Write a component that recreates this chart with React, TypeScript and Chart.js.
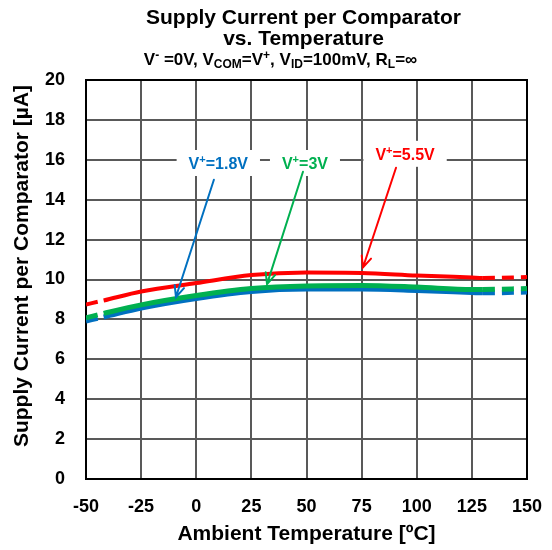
import React, { useEffect, useRef } from "react";
import { Chart, registerables } from "chart.js";

Chart.register(...registerables);

// ---- data ----
const temps = [-50, -42, -25, 0, 25, 50, 75, 100, 125, 130, 150];
const red55 = [8.75, 8.95, 9.4, 9.82, 10.22, 10.35, 10.33, 10.2, 10.1, 10.08, 10.12];
const green3 = [8.08, 8.3, 8.73, 9.2, 9.55, 9.68, 9.7, 9.62, 9.5, 9.5, 9.55];
const blue18 = [7.92, 8.12, 8.57, 9.05, 9.4, 9.52, 9.52, 9.45, 9.35, 9.33, 9.37];
const seriesNames = ["V+=1.8V", "V+=3V", "V+=5.5V"];
const labelValues = ["=1.8V", "=3V", "=5.5V"];
const xTicks = [-50, -25, 0, 25, 50, 75, 100, 125, 150];
const yTicks = [0, 2, 4, 6, 8, 10, 12, 14, 16, 18, 20];
const titleLine1 = "Supply Current per Comparator";
const titleLine2 = "vs. Temperature";
const xTitle = "Ambient Temperature [ºC]";
const yTitle = "Supply Current per Comparator [µA]";
// annotation anchors in data units: [labelX, labelY, arrowFromX, arrowFromY, arrowToX, arrowToY]
const annBlue = [10, 15.84, 8.0, 15.0, -9.2, 9.12];
const annGreen = [49.3, 15.84, 48.4, 15.4, 32.1, 9.77];
const annRed = [94.7, 16.3, 90.6, 15.6, 75.6, 10.6];

const BLUE = "#0070C0";
const GREEN = "#00B050";
const RED = "#FF0000";
const FONT = "'Liberation Sans', Arial, sans-serif";

type Seg = [string, "n" | "sup" | "sub"];

function richWidth(ctx: CanvasRenderingContext2D, segs: Seg[], size: number, ratio: number) {
  const small = Math.round(size * ratio);
  let w = 0;
  for (const [t, k] of segs) {
    ctx.font = `bold ${k === "n" ? size : small}px ${FONT}`;
    w += ctx.measureText(t).width;
  }
  return w;
}

function drawRich(ctx: CanvasRenderingContext2D, segs: Seg[], cx: number, y: number, size: number, color: string, ratio = 0.68) {
  const small = Math.round(size * ratio);
  const w = richWidth(ctx, segs, size, ratio);
  let x = cx - w / 2;
  ctx.fillStyle = color;
  ctx.textAlign = "left";
  ctx.textBaseline = "alphabetic";
  for (const [t, k] of segs) {
    ctx.font = `bold ${k === "n" ? size : small}px ${FONT}`;
    const dy = k === "sup" ? -size * 0.38 : k === "sub" ? size * 0.2 : 0;
    ctx.fillText(t, x, y + dy);
    x += ctx.measureText(t).width;
  }
  return w;
}

const overlay = {
  id: "overlay",
  beforeDatasetsDraw(chart: any) {
    const { ctx, chartArea } = chart;
    ctx.save();
    ctx.strokeStyle = "#000";
    ctx.lineWidth = 2;
    ctx.strokeRect(chartArea.left, chartArea.top, chartArea.right - chartArea.left, chartArea.bottom - chartArea.top);
    ctx.restore();
  },
  afterDatasetsDraw(chart: any) {
    const { ctx, chartArea } = chart;
    const xs = chart.scales.x;
    const ys = chart.scales.y;
    ctx.save();
    // titles
    const cx = (chartArea.left + chartArea.right) / 2;
    ctx.fillStyle = "#000";
    ctx.textAlign = "center";
    ctx.textBaseline = "alphabetic";
    ctx.font = `bold 21px ${FONT}`;
    ctx.fillText(titleLine1, cx - 3, 24);
    ctx.fillText(titleLine2, cx - 3, 45);
    drawRich(
      ctx,
      [
        ["V", "n"], ["-", "sup"], [" =0V, V", "n"], ["COM", "sub"], ["=V", "n"], ["+", "sup"],
        [", V", "n"], ["ID", "sub"], ["=100mV, R", "n"], ["L", "sub"], ["=∞", "n"],
      ],
      cx - 26, 65, 17, "#000", 0.68
    );
    // y title
    ctx.save();
    ctx.translate(22, 266);
    ctx.rotate(-Math.PI / 2);
    ctx.font = `bold 21px ${FONT}`;
    ctx.textAlign = "center";
    ctx.textBaseline = "middle";
    ctx.fillStyle = "#000";
    ctx.fillText(yTitle, 0, 0);
    ctx.restore();

    // annotations
    const anns: [number[], string, string][] = [
      [annBlue, labelValues[0], BLUE],
      [annGreen, labelValues[1], GREEN],
      [annRed, labelValues[2], RED],
    ];
    for (const [a, txt, col] of anns) {
      const lx = xs.getPixelForValue(a[0]);
      const ly = ys.getPixelForValue(a[1]);
      const segs: Seg[] = [["V", "n"], ["+", "sup"], [txt, "n"]];
      const w = richWidth(ctx, segs, 16, 0.68);
      ctx.fillStyle = "#fff";
      ctx.fillRect(lx - w / 2 - 12, ly - 13, w + 24, 26);
      drawRich(ctx, segs, lx, ly + 6, 16, col, 0.68);
      // arrow
      const x1 = xs.getPixelForValue(a[2]);
      const y1 = ys.getPixelForValue(a[3]);
      const x2 = xs.getPixelForValue(a[4]);
      const y2 = ys.getPixelForValue(a[5]);
      ctx.strokeStyle = col;
      ctx.lineWidth = 2;
      ctx.lineCap = "round";
      ctx.beginPath();
      ctx.moveTo(x1, y1);
      ctx.lineTo(x2, y2);
      const ang = Math.atan2(y2 - y1, x2 - x1);
      const hl = 12;
      const spread = 0.42;
      ctx.moveTo(x2 - hl * Math.cos(ang - spread), y2 - hl * Math.sin(ang - spread));
      ctx.lineTo(x2, y2);
      ctx.lineTo(x2 - hl * Math.cos(ang + spread), y2 - hl * Math.sin(ang + spread));
      ctx.stroke();
    }
    ctx.restore();
  },
};

function makeData(vals: number[]) {
  return temps.map((t, i) => ({ x: t, y: vals[i] }));
}

export default function App() {
  const ref = useRef<HTMLCanvasElement | null>(null);
  useEffect(() => {
    if (!ref.current) return;
    const dash = (ctx: any) =>
      ctx.p0DataIndex === 0 || ctx.p0DataIndex >= temps.length - 2 ? [12, 7] : undefined;
    const chart = new Chart(ref.current, {
      type: "line",
      data: {
        datasets: [
          { label: seriesNames[2], data: makeData(red55), borderColor: RED, borderWidth: 4, segment: { borderDash: dash } },
          { label: seriesNames[1], data: makeData(green3), borderColor: GREEN, borderWidth: 5, segment: { borderDash: dash } },
          { label: seriesNames[0], data: makeData(blue18), borderColor: BLUE, borderWidth: 5, segment: { borderDash: dash } },
        ] as any,
      },
      options: {
        animation: false,
        responsive: false,
        devicePixelRatio: 1,
        layout: { padding: { top: 80, right: 25, bottom: 0, left: 0 } },
        elements: {
          point: { radius: 0, hoverRadius: 0 },
          line: { cubicInterpolationMode: "monotone", fill: false },
        },
        plugins: { legend: { display: false }, tooltip: { enabled: false }, title: { display: false } },
        scales: {
          x: {
            type: "linear",
            min: -50,
            max: 150,
            afterBuildTicks: (s: any) => { s.ticks = xTicks.map((v) => ({ value: v })); },
            afterFit: (s: any) => { s.height = 71; s.paddingLeft = 0; s.paddingRight = 0; },
            grid: { color: "#595959", lineWidth: 2, drawTicks: false },
            border: { color: "#000", width: 2 },
            ticks: { color: "#000", font: { family: FONT, size: 18, weight: "bold" }, padding: 17, maxRotation: 0 },
            title: { display: true, text: xTitle, color: "#000", font: { family: FONT, size: 21, weight: "bold" }, padding: { top: 0, bottom: 3 } },
          },
          y: {
            type: "linear",
            min: 0,
            max: 20,
            afterBuildTicks: (s: any) => { s.ticks = yTicks.map((v) => ({ value: v })); },
            afterFit: (s: any) => { s.width = 86; s.paddingTop = 0; s.paddingBottom = 0; },
            grid: { color: "#595959", lineWidth: 2, drawTicks: false },
            border: { color: "#000", width: 2 },
            ticks: { color: "#000", font: { family: FONT, size: 18, weight: "bold" }, padding: 21 },
          },
        },
      } as any,
      plugins: [overlay],
    });
    return () => chart.destroy();
  }, []);
  return (
    <div style={{ position: "fixed", left: 0, top: 0, width: 552, height: 550, background: "#fff" }}>
      <canvas ref={ref} width={552} height={550} style={{ width: 552, height: 550 }} />
    </div>
  );
}
